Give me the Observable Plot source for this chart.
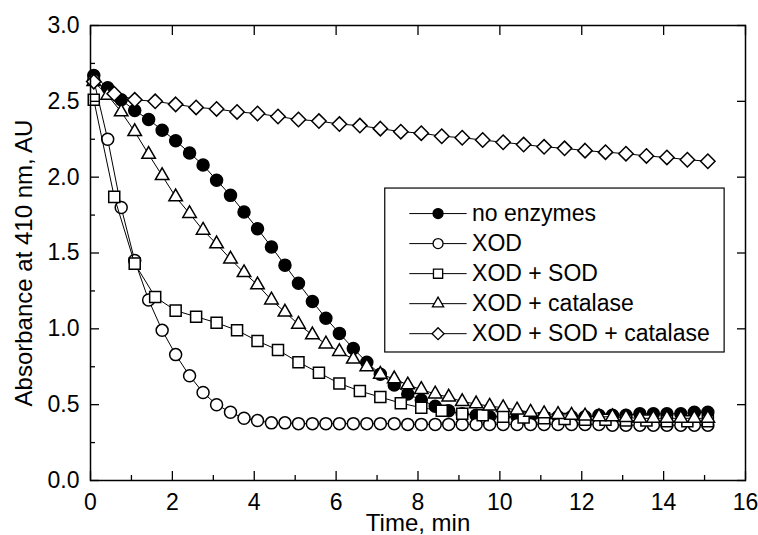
<!DOCTYPE html>
<html><head><meta charset="utf-8">
<script src="https://cdn.jsdelivr.net/npm/d3@7"></script>
<script src="https://cdn.jsdelivr.net/npm/@observablehq/plot@0.6"></script>
<style>
body{margin:0;background:#fff;}
#chart svg{font-family:"Liberation Sans",Arial,sans-serif;}
</style></head><body><div id="chart"></div>
<script>
// sampling times (min)
const time20s = [0.08,0.42,0.75,1.08,1.42,1.75,2.08,2.42,2.75,3.08,3.42,3.75,4.08,4.42,4.75,5.08,5.42,5.75,6.08,6.42,6.75,7.08,7.42,7.75,8.08,8.42,8.75,9.08,9.42,9.75,10.08,10.42,10.75,11.08,11.42,11.75,12.08,12.42,12.75,13.08,13.42,13.75,14.08,14.42,14.75,15.08];
const time30s = [0.08,0.58,1.08,1.58,2.08,2.58,3.08,3.58,4.08,4.58,5.08,5.58,6.08,6.58,7.08,7.58,8.08,8.58,9.08,9.58,10.08,10.58,11.08,11.58,12.08,12.58,13.08,13.58,14.08,14.58,15.08];

// absorbance values (AU)
const noEnzymes = [2.67,2.59,2.51,2.44,2.38,2.31,2.24,2.16,2.08,1.98,1.88,1.77,1.66,1.54,1.42,1.30,1.18,1.07,0.97,0.87,0.78,0.70,0.63,0.57,0.53,0.49,0.46,0.44,0.43,0.42,0.42,0.42,0.42,0.42,0.42,0.42,0.42,0.43,0.43,0.43,0.44,0.44,0.44,0.44,0.45,0.45];
const xod = [2.64,2.25,1.80,1.45,1.19,0.99,0.83,0.69,0.58,0.50,0.45,0.41,0.395,0.38,0.38,0.375,0.375,0.375,0.375,0.375,0.375,0.375,0.375,0.37,0.37,0.37,0.37,0.37,0.37,0.37,0.37,0.37,0.37,0.37,0.37,0.37,0.37,0.37,0.365,0.365,0.365,0.365,0.365,0.365,0.365,0.365];
const xodSod = [2.51,1.87,1.43,1.21,1.12,1.08,1.04,0.99,0.92,0.86,0.78,0.71,0.64,0.59,0.55,0.51,0.48,0.46,0.44,0.43,0.42,0.415,0.41,0.405,0.40,0.40,0.395,0.395,0.39,0.39,0.39];
const xodCatalase = [2.63,2.54,2.43,2.30,2.15,2.01,1.87,1.76,1.65,1.56,1.46,1.37,1.29,1.19,1.11,1.03,0.96,0.90,0.85,0.80,0.75,0.70,0.67,0.63,0.60,0.57,0.55,0.52,0.505,0.49,0.48,0.465,0.45,0.44,0.435,0.43,0.425,0.42,0.42,0.415,0.41,0.41,0.41,0.41,0.41,0.41];
const xodSodCatalase = [2.63,2.55,2.51,2.50,2.48,2.46,2.45,2.43,2.42,2.40,2.38,2.37,2.35,2.34,2.32,2.30,2.29,2.27,2.26,2.245,2.23,2.215,2.20,2.19,2.175,2.165,2.155,2.14,2.13,2.115,2.105];

const seriesNames = ["no enzymes","XOD","XOD + SOD","XOD + catalase","XOD + SOD + catalase"];
const xTicks = [0,2,4,6,8,10,12,14,16];
const xMinorTicks = [1,3,5,7,9,11,13,15];
const yTicks = [0,0.5,1,1.5,2,2.5,3];
const yMinorTicks = [0.25,0.75,1.25,1.75,2.25,2.75];

// custom marker shapes
const symCircle = {draw(c,s){const r=Math.sqrt(s/Math.PI);c.moveTo(r,0);c.arc(0,0,r,0,2*Math.PI);}};
const symSquare = {draw(c,s){const r=Math.sqrt(s/Math.PI)*0.92;c.rect(-r,-r,2*r,2*r);}};
const symTriangle = {draw(c,s){const r=Math.sqrt(s/Math.PI)*1.3;const h=r*Math.sqrt(3)/2;c.moveTo(0,-r);c.lineTo(h,r/2);c.lineTo(-h,r/2);c.closePath();}};
const symDiamond = {draw(c,s){const r=Math.sqrt(s/Math.PI)*1.2;c.moveTo(0,-r);c.lineTo(r,0);c.lineTo(0,r);c.lineTo(-r,0);c.closePath();}};

const series = [
  {name: seriesNames[0], t: time20s, v: noEnzymes, symbol: symCircle, fill: "black"},
  {name: seriesNames[1], t: time20s, v: xod, symbol: symCircle, fill: "white"},
  {name: seriesNames[2], t: time30s, v: xodSod, symbol: symSquare, fill: "white"},
  {name: seriesNames[3], t: time20s, v: xodCatalase, symbol: symTriangle, fill: "white"},
  {name: seriesNames[4], t: time30s, v: xodSodCatalase, symbol: symDiamond, fill: "white"}
];

const FS = 23;
const marks = [];
for (const s of series) {
  const data = s.t.map((t,i) => ({t, v: s.v[i]}));
  marks.push(Plot.line(data, {x: "t", y: "v", stroke: "black", strokeWidth: 1}));
  marks.push(Plot.dot(data, {x: "t", y: "v", symbol: s.symbol, r: 6, fill: s.fill, stroke: "black", strokeWidth: 1.5}));
}

// legend (in data coordinates)
const lg = {x1: 7.2, x2: 15.49, y1: 0.844, y2: 1.925, lineX1: 7.8, lineX2: 9.2, markX: 8.49, textX: 9.32, firstY: 1.76, step: 0.198};
marks.push(Plot.rect([0], {x1: lg.x1, x2: lg.x2, y1: lg.y1, y2: lg.y2, fill: "white", stroke: "black", strokeWidth: 1.2}));
series.forEach((s, i) => {
  const row = [{y: lg.firstY - i*lg.step, name: s.name}];
  marks.push(Plot.ruleY(row, {y: "y", x1: lg.lineX1, x2: lg.lineX2, stroke: "black", strokeWidth: 1}));
  marks.push(Plot.dot(row, {x: lg.markX, y: "y", symbol: s.symbol, r: 5, fill: s.fill, stroke: "black", strokeWidth: 1.3}));
  marks.push(Plot.text(row, {x: lg.textX, y: "y", text: "name", textAnchor: "start", fontSize: FS, fill: "black"}));
});

const noText = () => "";
const chart = Plot.plot({
  width: 758, height: 535,
  marginTop: 25, marginBottom: 55, marginLeft: 90, marginRight: 13,
  style: {fontSize: FS + "px", fontFamily: '"Liberation Sans", Arial, sans-serif', color: "black", background: "white"},
  x: {domain: [0, 16]},
  y: {domain: [0, 3]},
  marks: [
    ...marks,
    Plot.axisX(xTicks, {anchor: "bottom", tickSize: -9, tickPadding: 22, fontSize: FS, label: null, strokeWidth: 1.3}),
    Plot.axisX(xMinorTicks, {anchor: "bottom", tickSize: -5, tickFormat: noText, label: null, strokeWidth: 1.3}),
    Plot.axisX(xTicks, {anchor: "top", tickSize: -9, tickFormat: noText, label: null, strokeWidth: 1.3}),
    Plot.axisY(yTicks, {anchor: "left", tickSize: -9, tickPadding: 20, fontSize: FS, tickFormat: d3.format(".1f"), label: null, strokeWidth: 1.3}),
    Plot.axisY(yMinorTicks, {anchor: "left", tickSize: -5, tickFormat: noText, label: null, strokeWidth: 1.3}),
    Plot.axisY(yTicks, {anchor: "right", tickSize: -9, tickFormat: noText, label: null, strokeWidth: 1.3}),
    Plot.frame({stroke: "black", strokeWidth: 1.5}),
    Plot.text(["Time, min"], {frameAnchor: "bottom", lineAnchor: "bottom", dy: 50, fontSize: 24, fill: "black"}),
    Plot.text(["Absorbance at 410 nm, AU"], {frameAnchor: "left", textAnchor: "middle", dx: -66, dy: 10, rotate: -90, fontSize: 24, fill: "black"})
  ]
});
document.getElementById("chart").appendChild(chart);
</script></body></html>
